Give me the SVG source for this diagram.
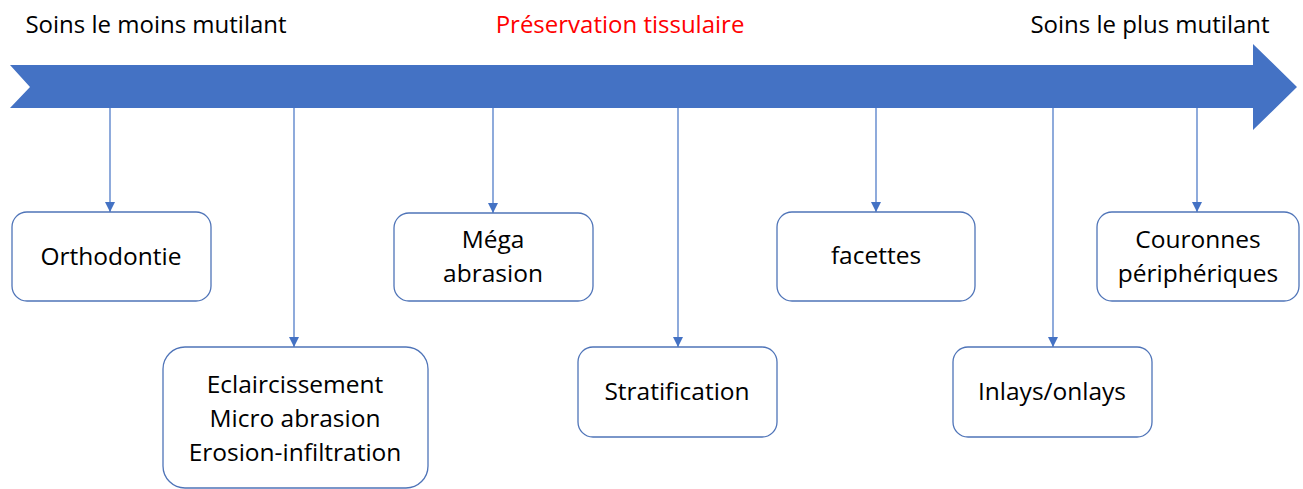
<svg xmlns="http://www.w3.org/2000/svg" width="1303" height="489" viewBox="0 0 1303 489">
<style>
.t{font-family:"Open Sans","Liberation Sans",sans-serif;font-size:24.5px;fill:#000;text-anchor:middle}
.h{font-size:24px}
.box{fill:#fff;stroke:#4f74b8;stroke-width:1.3}
.c{stroke:#4472c4;stroke-width:1.2;fill:none;marker-end:url(#ah)}
</style>
<defs>
<marker id="ah" viewBox="0 0 10 10" refX="10" refY="5" markerWidth="10" markerHeight="10" markerUnits="userSpaceOnUse" orient="auto">
<path d="M0,0 L10,5 L0,10 z" fill="#4472c4"/>
</marker>
</defs>
<rect width="1303" height="489" fill="#fff"/>
<g id="timeline">
<path d="M10,65 L1253,65 L1253,44 L1297,87 L1253,130 L1253,108 L10,108 L30,87 z" fill="#4472c4"/>
<text class="t h" x="156" y="33">Soins le moins mutilant</text>
<text class="t h" x="620" y="33" style="fill:#ff0000">Préservation tissulaire</text>
<text class="t h" x="1150" y="33">Soins le plus mutilant</text>
</g>
<g id="connectors">
<line class="c" x1="110" y1="108" x2="110" y2="212"/>
<line class="c" x1="294" y1="108" x2="294" y2="347"/>
<line class="c" x1="493" y1="108" x2="493" y2="213"/>
<line class="c" x1="678" y1="108" x2="678" y2="347"/>
<line class="c" x1="876" y1="108" x2="876" y2="212"/>
<line class="c" x1="1053" y1="108" x2="1053" y2="347"/>
<line class="c" x1="1197" y1="108" x2="1197" y2="212"/>
</g>
<g id="n-orthodontie">
<rect class="box" x="12" y="212" width="199" height="89" rx="15"/>
<text class="t" x="111" y="265">Orthodontie</text>
</g>
<g id="n-eclaircissement">
<rect class="box" x="163" y="347" width="265" height="141" rx="22"/>
<text class="t" x="295" y="393">Eclaircissement</text>
<text class="t" x="295" y="427">Micro abrasion</text>
<text class="t" x="295" y="461">Erosion-infiltration</text>
</g>
<g id="n-mega">
<rect class="box" x="394" y="213" width="199" height="88" rx="15"/>
<text class="t" x="493" y="248">Méga</text>
<text class="t" x="493" y="282">abrasion</text>
</g>
<g id="n-stratification">
<rect class="box" x="578" y="347" width="199" height="90" rx="15"/>
<text class="t" x="677" y="400">Stratification</text>
</g>
<g id="n-facettes">
<rect class="box" x="777" y="212" width="198" height="89" rx="15"/>
<text class="t" x="876" y="264">facettes</text>
</g>
<g id="n-inlays">
<rect class="box" x="953" y="347" width="199" height="90" rx="15"/>
<text class="t" x="1052" y="400">Inlays/onlays</text>
</g>
<g id="n-couronnes">
<rect class="box" x="1097" y="212" width="202" height="89" rx="15"/>
<text class="t" x="1198" y="248">Couronnes</text>
<text class="t" x="1198" y="282">périphériques</text>
</g>
</svg>
